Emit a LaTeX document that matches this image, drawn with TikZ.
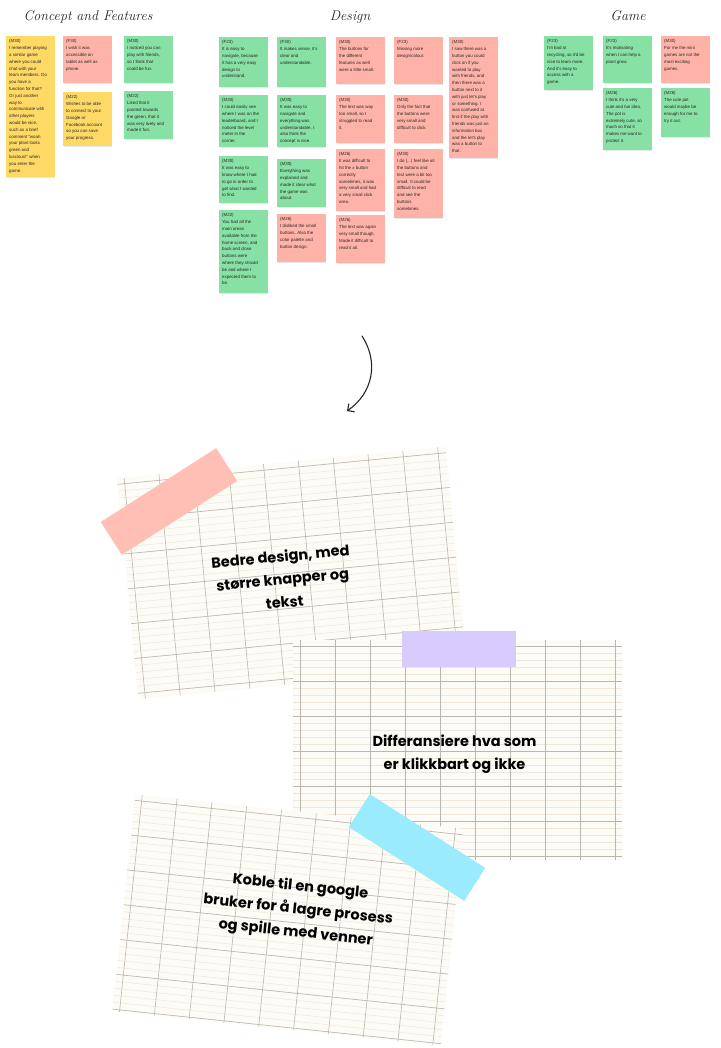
\documentclass[tikz,border=0pt]{standalone}
\usepackage{fontspec}
\usepackage{tikz}
\usetikzlibrary{arrows.meta,shadows}
\newfontfamily\notefont{Liberation Sans}
\newfontfamily\cardfont{Poppins}
\definecolor{notegreen}{HTML}{87E0A4}
\definecolor{notered}{HTML}{FFB3A8}
\definecolor{noteyellow}{HTML}{FFD966}
\definecolor{pinktape}{HTML}{FFBFB4}
\definecolor{purpletape}{HTML}{D8CCFF}
\definecolor{cyantape}{HTML}{99EBFD}
\definecolor{cardbg}{HTML}{FDFBF5}
\definecolor{gridmajor}{HTML}{BAB7B1}
\definecolor{gridminor}{HTML}{EFE8DA}
\definecolor{ink}{HTML}{262626}

\tikzset{
  heading/.style={font=\itshape\fontsize{14}{14}\selectfont, text=ink},
  memo/.style={anchor=north west, inner sep=0pt, minimum width=48.5pt,
    drop shadow={shadow xshift=0.5pt, shadow yshift=-0.7pt, opacity=0.18}},
  memotext/.style={anchor=north west, align=left, inner xsep=3pt, inner ysep=3.6pt,
    font=\notefont\fontsize{4.4}{6.8}\selectfont, text=ink},
  cardtext/.style={align=center, font=\cardfont\bfseries\fontsize{14.5}{23}\selectfont, text=black},
}

% name, corner, height, colour, text
\newcommand\sticky[5]{%
  \node[memo, fill=#4, minimum height=#3pt] (#1) at (#2) {};
  \node[memotext] (#1txt) at (#1.north west) {#5};
}
% width, height
\newcommand\gridcard[2]{%
  \fill[cardbg] (-#1/2,-#2/2) rectangle (#1/2,#2/2);
  \foreach \gy in {0,...,30}
    \draw[gridminor, line width=0.5pt] (-#1/2,-#2/2+6+7*\gy) -- (#1/2,-#2/2+6+7*\gy);
  \foreach \gy in {0,...,6}
    \draw[gridmajor, line width=0.6pt] (-#1/2,-#2/2+6+35*\gy) -- (#1/2,-#2/2+6+35*\gy);
  \foreach \gx in {0,...,9}
    \draw[gridmajor, line width=0.6pt] (-#1/2+7+35*\gx,-#2/2) -- (-#1/2+7+35*\gx,#2/2);
}

\begin{document}
\begin{tikzpicture}[x=1pt, y=-1pt]
  \useasboundingbox (0,0) rectangle (720,1048);
  \fill[white] (0,0) rectangle (720,1048);

  % headings
  \node[heading] (concept) at (88,17) {Concept and Features};
  \node[heading] (design) at (350,17) {Design};
  \node[heading] (game) at (628,16) {Game};

  % concept and features
  \sticky{c1}{6,36}{141}{noteyellow}{(M30)\\I remember playing\\a similar game\\where you could\\chat with your\\team members. Do\\you have a\\function for that?\\Or just another\\way to\\communicate with\\other players\\would be nice,\\such as a brief\\comment “woah\\your plant looks\\green and\\luscious!” when\\you enter the\\game.}
  \sticky{c2}{63,36}{47}{notered}{(F30)\\I wish it was\\accessible on\\tablet as well as\\phone.}
  \sticky{c3}{124,36}{47}{notegreen}{(M30)\\I noticed you can\\play with friends,\\so I think that\\could be fun.}
  \sticky{c4}{63,92}{54}{noteyellow}{(M22)\\Wishes to be able\\to connect to your\\Google or\\Facebook account\\so you can save\\your progress.}
  \sticky{c5}{124,91}{48}{notegreen}{(M22)\\Liked that it\\pointed towards\\the green, that it\\was very lively and\\made it fun.}

  % design
  \sticky{d1}{219,37}{50}{notegreen}{(F23)\\It is easy to\\navigate, because\\it has a very easy\\design to\\understand.}
  \sticky{d2}{277,37}{50}{notegreen}{(F30)\\It makes sense, it's\\clear and\\understandable.}
  \sticky{d3}{219,95}{52}{notegreen}{(M30)\\I could easily see\\where I was on the\\leaderboard, and I\\noticed the level\\meter in the\\corner.}
  \sticky{d4}{277,95}{52}{notegreen}{(M30)\\It was easy to\\navigate and\\everything was\\understandable. I\\also think the\\concept is nice.}
  \sticky{d5}{219,156}{47}{notegreen}{(M30)\\It was easy to\\know where I had\\to go in order to\\get what I wanted\\to find.}
  \sticky{d6}{277,159}{48}{notegreen}{(M30)\\Everything was\\explained and\\made it clear what\\the game was\\about.}
  \sticky{d7}{219,210}{83}{notegreen}{(M22)\\You had all the\\main areas\\available from the\\home screen, and\\back and close\\buttons were\\where they should\\be and where I\\expected them to\\be.}
  \sticky{d8}{277,214}{48}{notered}{(M26)\\I disliked the small\\buttons. Also the\\color palette and\\button design.}
  \sticky{d9}{336,37}{47}{notered}{(M30)\\The buttons for\\the different\\features as well\\were a little small.}
  \sticky{d10}{394,37}{47}{notered}{(F23)\\Missing more\\design/colour.}
  \sticky{d11}{336,95}{48}{notered}{(M30)\\The text was way\\too small, so I\\struggled to read\\it.}
  \sticky{d12}{394,95}{48}{notered}{(M30)\\Only the fact that\\the buttons were\\very small and\\difficult to click.}
  \sticky{d13}{336,149}{62}{notered}{(M26)\\It was difficult to\\hit the x button\\correctly\\sometimes, it was\\very small and had\\a very small click\\area.}
  \sticky{d14}{394,149}{69}{notered}{(M30)\\I do (...) feel like all\\the buttons and\\text were a bit too\\small. It could be\\difficult to read\\and see the\\buttons\\sometimes.}
  \sticky{d15}{336,215}{48}{notered}{(M26)\\The text was again\\very small though.\\Made it difficult to\\read it all.}
  \sticky{d16}{449,37}{121}{notered}{(M30)\\I saw there was a\\button you could\\click on if you\\wanted to play\\with friends, and\\then there was a\\button next to it\\with just let's play\\or something. I\\was confused at\\first if the play with\\friends was just an\\information box\\and the let's play\\was a button to\\that.}

  % game
  \sticky{g1}{544,36}{54}{notegreen}{(F23)\\I'm bad at\\recycling, so it'd be\\nice to learn more.\\And it's easy to\\access with a\\game.}
  \sticky{g2}{603,36}{47}{notegreen}{(F23)\\It's motivating\\when I can help a\\plant grow.}
  \sticky{g3}{661,36}{47}{notered}{(M30)\\For me the mini\\games are not the\\most exciting\\games.}
  \sticky{g4}{603,88}{62}{notegreen}{(M26)\\I think it's a very\\cute and fun idea.\\The pot is\\extremely cute, so\\much so that it\\makes me want to\\protect it.}
  \sticky{g5}{661,88}{49}{notegreen}{(M26)\\The cute pot\\would maybe be\\enough for me to\\try it out.}

  % arrow
  \coordinate (arrowfrom) at (362,336);
  \coordinate (arrowto) at (347,411);
  \draw[ink, line width=1.1pt, line cap=round, -{Straight Barb[length=5pt,width=10pt]}]
    (arrowfrom) .. controls (379,362) and (373,393) .. (arrowto);

  % card one
  \begin{scope}[shift={(292,573)}, rotate=5.5]
    \gridcard{330}{222}
    \node[cardtext, rotate=5.5] (bedre) at (-10,5) {Bedre design, med\\større knapper og\\tekst};
  \end{scope}
  \begin{scope}[shift={(169,501.5)}, rotate=32.6]
    \fill[pinktape] (-68.5,-19.5) rectangle (68.5,19.5);
  \end{scope}

  % card two
  \begin{scope}[shift={(457.5,750)}]
    \gridcard{329}{220}
    \node[cardtext] (klikk) at (-3,4) {Differansiere hva som\\er klikkbart og ikke};
  \end{scope}
  \fill[purpletape] (402,631) rectangle (516,667);

  % card three
  \begin{scope}[shift={(288,920)}, rotate=-6]
    \gridcard{330}{218}
    \node[cardtext, rotate=-6] (koble) at (9,-11) {Koble til en google\\bruker for å lagre prosess\\og spille med venner};
  \end{scope}
  \begin{scope}[shift={(417,847.5)}, rotate=-32.6]
    \fill[cyantape] (-68.5,-19.5) rectangle (68.5,19.5);
  \end{scope}
\end{tikzpicture}
\end{document}
